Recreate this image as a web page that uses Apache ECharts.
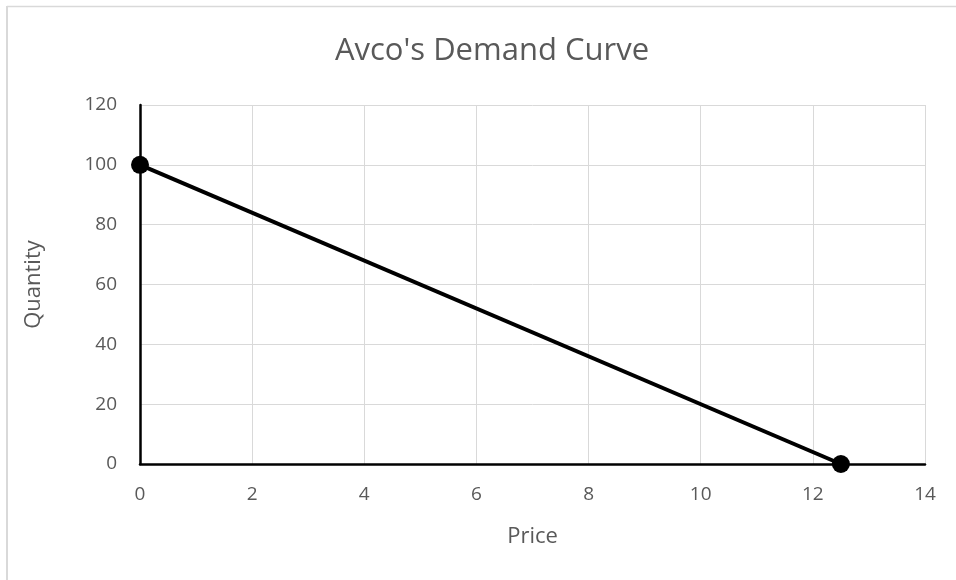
<!DOCTYPE html>
<html><head><meta charset="utf-8">
<script src="https://cdn.jsdelivr.net/npm/echarts@6/dist/echarts.min.js"></script>
<style>html,body{margin:0;padding:0;background:#fff}#c{width:956px;height:580px}</style>
</head><body><div id="c"></div>
<script>
const titleText = "Avco's Demand Curve";
const xName = "Price";
const yName = "Quantity";
const prices = [0, 12.5];
const quantities = [100, 0];
const xTicks = [0, 2, 4, 6, 8, 10, 12, 14];
const yTicks = [0, 20, 40, 60, 80, 100, 120];

const chart = echarts.init(document.getElementById('c'), null, {renderer: 'canvas'});
const font = "'Open Sans', 'Noto Sans', sans-serif";
chart.setOption({
  animation: false,
  backgroundColor: '#fff',
  graphic: [
    {type: 'line', shape: {x1: 7, y1: 6.5, x2: 956, y2: 6.5}, style: {stroke: '#d9d9d9', lineWidth: 1.5}},
    {type: 'line', shape: {x1: 7, y1: 6, x2: 7, y2: 580}, style: {stroke: '#d9d9d9', lineWidth: 2}}
  ],
  title: {text: titleText, left: 487, top: 31, textAlign: 'center',
    textStyle: {fontFamily: font, fontSize: 31, fontWeight: 'normal', color: '#595959'}},
  grid: {left: 140, right: 31, top: 105, bottom: 116},
  xAxis: {type: 'value', min: xTicks[0], max: xTicks[xTicks.length-1], interval: 2,
    name: xName, nameLocation: 'middle', nameGap: 62,
    nameTextStyle: {fontFamily: font, fontSize: 22, color: '#595959'},
    axisLine: {onZero: false, lineStyle: {color: '#000', width: 2.5}},
    axisTick: {show: false},
    axisLabel: {fontFamily: font, fontSize: 19, color: '#595959', margin: 21},
    splitLine: {show: true, lineStyle: {color: '#d9d9d9', width: 1}}},
  yAxis: {type: 'value', min: yTicks[0], max: yTicks[yTicks.length-1], interval: 20,
    name: yName, nameLocation: 'middle', nameGap: 95, nameRotate: 90,
    nameTextStyle: {fontFamily: font, fontSize: 22, color: '#595959'},
    axisLine: {show: true, onZero: false, lineStyle: {color: '#000', width: 2.5}},
    axisTick: {show: false},
    axisLabel: {fontFamily: font, fontSize: 19, color: '#595959', margin: 23},
    splitLine: {show: true, lineStyle: {color: '#d9d9d9', width: 1}}},
  series: [{type: 'line', data: prices.map((p, i) => [p, quantities[i]]),
    lineStyle: {color: '#000', width: 4}, symbol: 'circle', symbolSize: 18,
    itemStyle: {color: '#000'}, z: 5}]
});
</script></body></html>
